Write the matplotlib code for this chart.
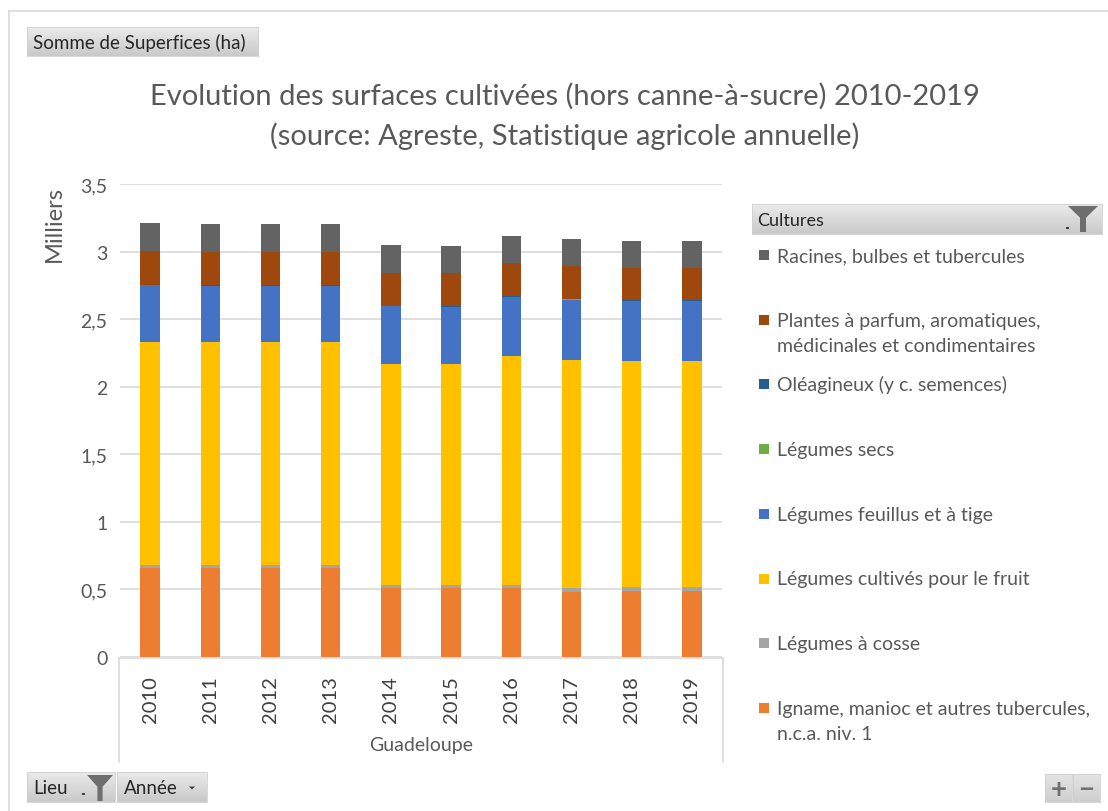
import numpy as np
import matplotlib
matplotlib.use("Agg")
import matplotlib.pyplot as plt
from matplotlib.patches import Rectangle, Polygon
from matplotlib.lines import Line2D

plt.rcParams['font.family'] = ['Lato', 'DejaVu Sans']

# ---------------- data (milliers d'hectares) ----------------
years = ["2010", "2011", "2012", "2013", "2014", "2015", "2016", "2017", "2018", "2019"]
igname = [0.659, 0.659, 0.659, 0.659, 0.509, 0.509, 0.509, 0.484, 0.489, 0.489]
cosse = [0.025, 0.025, 0.025, 0.025, 0.025, 0.027, 0.027, 0.027, 0.027, 0.027]
fruit = [1.645, 1.645, 1.645, 1.645, 1.637, 1.635, 1.689, 1.690, 1.675, 1.675]
feuillus = [0.421, 0.416, 0.416, 0.416, 0.424, 0.416, 0.436, 0.443, 0.440, 0.440]
secs = [0.003, 0.003, 0.003, 0.003, 0.003, 0.006, 0.006, 0.006, 0.006, 0.006]
oleagineux = [0.001, 0.001, 0.001, 0.001, 0.001, 0.001, 0.001, 0.001, 0.001, 0.001]
plantes = [0.251, 0.248, 0.248, 0.248, 0.246, 0.251, 0.251, 0.243, 0.244, 0.244]
racines = [0.209, 0.204, 0.204, 0.204, 0.204, 0.196, 0.196, 0.197, 0.196, 0.196]

series = [
    ("Igname, manioc et autres tubercules,\nn.c.a. niv. 1", igname, "#ED7D31"),
    ("Légumes à cosse", cosse, "#A5A5A5"),
    ("Légumes cultivés pour le fruit", fruit, "#FFC000"),
    ("Légumes feuillus et à tige", feuillus, "#4472C4"),
    ("Légumes secs", secs, "#70AD47"),
    ("Oléagineux (y c. semences)", oleagineux, "#255E91"),
    ("Plantes à parfum, aromatiques,\nmédicinales et condimentaires", plantes, "#9E480E"),
    ("Racines, bulbes et tubercules", racines, "#636363"),
]

title = "Evolution des surfaces cultivées (hors canne-à-sucre) 2010-2019\n(source: Agreste, Statistique agricole annuelle)"

W, H = 1108, 812
fig = plt.figure(figsize=(W / 100, H / 100), dpi=100)
fig.patch.set_facecolor("white")


def fx(x):
    return x / W


def fy(y):
    return 1 - y / H


TXT = "#595959"

# chart frame (left and top edges)
fig.add_artist(Line2D([fx(9), fx(9)], [fy(12), fy(812)], color="#D9D9D9", lw=1.2))
fig.add_artist(Line2D([fx(9), fx(1108)], [fy(12), fy(12)], color="#D9D9D9", lw=1.2))

# ---------------- main axes ----------------
ax = fig.add_axes([fx(120), fy(658), fx(722) - fx(120), fy(185) - fy(658)])
x = np.arange(len(years))
bottom = np.zeros(len(years))
containers = []
for label, vals, color in series:
    vals = np.array(vals)
    c = ax.bar(x, vals, width=0.32, bottom=bottom, color=color, linewidth=0, zorder=3)
    containers.append(c)
    bottom += vals

ax.set_xlim(-0.5, len(years) - 0.5)
ax.set_ylim(0, 3.5)
ax.set_yticks(np.arange(0, 3.51, 0.5))
ax.set_yticklabels(["0", "0,5", "1", "1,5", "2", "2,5", "3", "3,5"])
ax.yaxis.grid(True, color="#D9D9D9", lw=1.2, zorder=0)
ax.set_axisbelow(True)
for s in ["top", "right", "left", "bottom"]:
    ax.spines[s].set_visible(False)
ax.tick_params(axis="y", length=0, pad=9, labelsize=14, labelcolor=TXT)
ax.set_xticks(x)
ax.set_xticklabels(years, rotation=90, fontsize=14.5, color="#404040")
ax.tick_params(axis="x", length=0, pad=13)

# category box
boxc = "#D9D9D9"
fig.add_artist(Line2D([fx(119), fx(723)], [fy(659), fy(659)], color=boxc, lw=1.2))
fig.add_artist(Line2D([fx(119), fx(119)], [fy(659), fy(763)], color=boxc, lw=1.2))
fig.add_artist(Line2D([fx(723), fx(723)], [fy(659), fy(763)], color=boxc, lw=1.2))
fig.text(fx(421), fy(746), "Guadeloupe", ha="center", va="center", fontsize=14, color=TXT)

fig.text(fx(54), fy(224), "Milliers", rotation=90, ha="center", va="center", fontsize=17, color=TXT)

# title
fig.text(fx(565), fy(116), title, ha="center", va="center", fontsize=21, color=TXT,
         linespacing=1.56)


# ---------------- buttons ----------------
def gradient_box(x0, y0, x1, y1, top="#EBEBEB", bot="#C9C9C9"):
    a = fig.add_axes([fx(x0), fy(y1), fx(x1) - fx(x0), fy(y0) - fy(y1)])
    grad = np.linspace(0, 1, 64).reshape(-1, 1)
    c0 = np.array(matplotlib.colors.to_rgb(top))
    c1 = np.array(matplotlib.colors.to_rgb(bot))
    img = c0[None, None, :] * (1 - grad[:, :, None]) + c1[None, None, :] * grad[:, :, None]
    a.imshow(img, aspect="auto", extent=[0, 1, 0, 1], origin="upper")
    a.set_xticks([])
    a.set_yticks([])
    for s in a.spines.values():
        s.set_color("#D0D0D0")
        s.set_linewidth(0.6)
    return a


def funnel(xc, ytop, w, h):
    pts = [(xc - w / 2, ytop), (xc + w / 2, ytop), (xc + w * 0.1, ytop + h * 0.45),
           (xc + w * 0.1, ytop + h), (xc - w * 0.1, ytop + h), (xc - w * 0.1, ytop + h * 0.45)]
    fig.add_artist(Polygon([(fx(p), fy(q)) for p, q in pts], closed=True,
                           facecolor="#6E6E6E", edgecolor="none"))


def small_arrow(xc, yc, s=3):
    pts = [(xc - s, yc - s / 2), (xc + s, yc - s / 2), (xc, yc + s / 2)]
    fig.add_artist(Polygon([(fx(p), fy(q)) for p, q in pts], closed=True,
                           facecolor="#404040", edgecolor="none"))


gradient_box(27, 28, 258, 57)
fig.text(fx(33), fy(43), "Somme de Superfices (ha)", ha="left", va="center", fontsize=13.5, color="#262626")

gradient_box(752, 205, 1102, 235)
fig.text(fx(757), fy(221), "Cultures", ha="left", va="center", fontsize=13, color="#262626")
funnel(1083, 207, 30, 26)
fig.add_artist(Rectangle((fx(1066), fy(230)), fx(3) - fx(0), fy(0) - fy(2), facecolor="#404040"))

gradient_box(27, 773, 115, 803)
fig.text(fx(33), fy(789), "Lieu", ha="left", va="center", fontsize=13.5, color="#262626")
funnel(100, 776, 26, 26)
fig.add_artist(Rectangle((fx(82), fy(796)), fx(3) - fx(0), fy(0) - fy(2), facecolor="#404040"))
gradient_box(117, 773, 207, 803)
fig.text(fx(124), fy(789), "Année", ha="left", va="center", fontsize=13.5, color="#262626")
small_arrow(192, 789)

gradient_box(1045, 775, 1072, 803, top="#E3E3E3", bot="#CFCFCF")
gradient_box(1073, 775, 1100, 803, top="#E3E3E3", bot="#CFCFCF")
fig.text(fx(1058.5), fy(790), "+", ha="center", va="center", fontsize=20, color="#707070", fontweight="bold")
fig.text(fx(1086.5), fy(790), "−", ha="center", va="center", fontsize=20, color="#707070", fontweight="bold")

# ---------------- legend (top series first) ----------------
slot0, slot, line_h = 256, 64.7, 25
for i, (cont, (label, vals, color)) in enumerate(zip(containers[::-1], series[::-1])):
    yy = slot0 + i * slot
    fc = cont.patches[0].get_facecolor()
    fig.add_artist(Rectangle((fx(759), fy(yy + 5)), fx(10) - fx(0), fy(0) - fy(10),
                             facecolor=fc, edgecolor="none"))
    for k, line in enumerate(label.split("\n")):
        fig.text(fx(777), fy(yy + 6 + k * line_h), line, ha="left", va="baseline",
                 fontsize=14, color=TXT)

fig.savefig("out.png", dpi=100, facecolor="white")
